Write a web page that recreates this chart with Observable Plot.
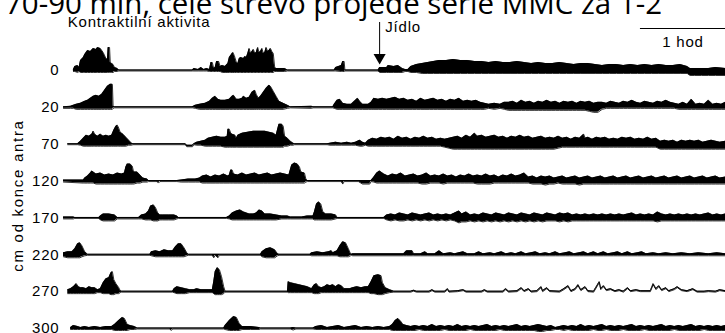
<!DOCTYPE html>
<html>
<head>
<meta charset="utf-8">
<script src="https://cdn.jsdelivr.net/npm/d3@7"></script>
<script src="https://cdn.jsdelivr.net/npm/@observablehq/plot@0.6"></script>
<style>
  html, body { margin: 0; padding: 0; background: #fff; overflow: hidden; }
  #wrap { position: relative; width: 725px; height: 333px; overflow: hidden; }
  #title { position: absolute; left: 0; top: 0; }
  #chart { position: absolute; left: 0; top: 0; }
  #chart text { letter-spacing: 0.8px; }
  #chart g[aria-label="fy-axis label"] text { letter-spacing: 1.7px; }
</style>
</head>
<body>
<div id="wrap">
  <div id="chart"></div>
  <svg id="title" width="725" height="30">
    <text x="5" y="14" textLength="657" lengthAdjust="spacingAndGlyphs" font-family="Open Sans" font-size="29" fill="#000">70-90 min, celé střevo projede série MMC za 1-2</text>
  </svg>
</div>
<script>
// Row labels: distance from the end of the antrum (cm)
const rowLabels = ["0", "20", "70", "120", "170", "220", "270", "300"];

// Each trace: [time (min), upper envelope, lower envelope] relative to the row baseline
const row0 = [[7,1,-1],[8,4,-1],[10,5,-2],[11,3,-1],[12,10,-2],[14,13,-2],[15,16,-2],[17,20,-2],[19,19,-2],[21,22,-2],[23,21,-2],[24,23,-2],[26,22,-2],[28,18,-2],[30,12,-2],[31,11,-2],[31.5,23,-2],[32.5,23,-2],[33,8,-2],[34,7,-2],[35,6,-2],[36,3,-1],[38,2,-1],[39,0.5,-0.5],[91,0.5,-0.5],[92,2,-0.5],[95,1,-0.5],[97,3,-0.5],[99,1,-0.5],[101,2,-0.5],[103,1,-1],[104,8,-1],[105,8,-1],[106,2,-1],[107,3,-1],[108,9,-1],[109.5,9,-1],[110.5,4,-1],[112,5,-2],[114,4,-2],[116,7,-2],[117,13,-2],[118,15,-2],[119.5,18,-2],[120.5,15,-2],[122,8,-2],[123,7,-2],[124,12,-2],[125,13,-2],[127,12,-2],[128,14,-2],[129,13,-2],[130,17,-2],[131,22,-2],[132,17,-2],[133,19,-2],[134,21,-2],[135,17,-2],[136,18,-2],[137,23,-2],[138,18,-2],[139,19,-2],[140,22,-2],[141,17,-2],[142,18,-2],[143,23,-2],[144,19,-2],[145,20,-2],[146,22,-2],[147,19,-2],[148,17,-2],[149,3,-1],[150,2,-1],[156,2,-1],[158,0.5,-0.5],[191,0.5,-0.5],[192,3,-0.5],[196,5,-1],[197,9,-1],[198,9,-1],[198.5,0.5,-0.5],[222,0.5,-0.5],[223,3,-2],[228,3,-2],[229,5,-2],[233,4,-2],[236,5,-2],[239,2,-2],[241,1,-1],[243,1,-1],[245,4,-2],[249,6,-2],[253,7,-3],[257,8,-3],[261,9,-3],[265,10,-3],[270,10,-3],[275,11,-3],[280,10,-3],[285,10,-3],[290,9,-3],[295,9,-3],[300,8,-3],[305,9,-3],[310,8,-3],[315,8,-3],[320,9,-3],[325,8,-3],[330,7,-3],[335,8,-3],[340,7,-3],[345,7,-3],[350,8,-3],[355,7,-3],[360,6,-3],[365,7,-3],[370,7,-3],[375,6,-3],[380,5,-3],[385,6,-3],[390,6,-3],[395,5,-3],[400,6,-3],[405,5,-3],[410,6,-3],[415,5,-3],[420,6,-3],[425,5,-3],[430,5,-3],[435,6,-3],[440,4,-3],[442,2,-5],[445,2,-5],[450,2,-5],[455,2,-5],[460,3,-5],[467,2,-5]];

const row20 = [[0,0.5,-1],[5,1,-1],[7,2,-1],[9,3,-2],[12,4,-2],[15,6,-2],[17,7,-2],[19,9,-2],[21,11,-2],[23,12,-2],[25,11,-2],[27,13,-2],[29,17,-2],[31,21,-2],[33,23,-2],[34.5,23,-2],[35,1,-1],[36,0.5,-0.5],[91,0.5,-0.5],[93,2,-1],[96,3,-2],[100,4,-2],[103,6,-2],[105,9,-2],[107,11,-2],[109,8,-2],[111,7,-2],[114,7,-2],[117,8,-2],[119,11,-2],[120,12,-2],[122,8,-2],[124,8,-2],[126,9,-2],[127,11,-2],[129,9,-2],[131,10,-2],[133,15,-2],[135,17,-2],[136,13,-2],[137.5,9,-2],[139,11,-2],[141,15,-2],[143,19,-2],[145,22,-2],[146,21,-2],[148,16,-2],[150,11,-2],[152,6,-2],[155,4,-2],[158,2,-1],[160,0.5,-0.5],[175,1,-1],[176,0.5,-0.5],[190,0.5,-0.5],[191,3,-1],[193,7,-2],[195,8,-2],[197,4,-2],[200,3,-2],[203,3,-2],[206,7,-2],[207.5,9,-2],[209,6,-2],[211,3,-2],[215,3,-2],[217,5,-2],[219,9,-2],[222,8,-2],[225,9,-2],[228,8,-2],[231,9,-2],[234,10,-2],[237,8,-2],[240,9,-2],[243,7,-2],[246,8,-2],[249,6,-2],[252,9,-2],[255,7,-2],[258,8,-2],[261,9,-2],[264,7,-2],[267,8,-2],[270,6,-2],[273,8,-2],[276,7,-2],[279,9,-2],[282,6,-2],[285,7,-2],[288,6,-2],[291,7,-2],[294,5,-2],[297,4,-2],[300,3,-1],[304,4,-2],[308,3,-1],[311,5,-2],[314,5,-3],[317,6,-3],[320,4,-3],[323,7,-3],[326,5,-3],[329,6,-3],[332,4,-3],[335,6,-3],[338,5,-3],[341,7,-3],[344,5,-3],[347,6,-3],[350,4,-3],[353,6,-3],[356,5,-3],[359,6,-3],[362,4,-3],[365,6,-3],[368,5,-3],[371,6,-4],[374,4,-5],[377,5,-5],[380,5,-2],[383,4,-1],[386,6,-1],[389,5,-1],[392,4,-1],[395,6,-1],[398,5,-1],[401,7,-1],[404,5,-1],[407,4,-1],[410,6,-1],[413,5,-1],[416,4,-1],[419,6,-1],[422,5,-1],[425,7,-1],[428,5,-1],[431,4,-1],[434,3,-2],[437,5,-2],[440,3,-2],[443,8,-2],[446,3,-2],[449,4,-2],[452,3,-2],[455,7,-2],[458,3,-2],[461,4,-2],[464,3,-2],[467,5,-2]];

const row70 = [[3,0.5,-0.5],[10,0.5,-0.5],[12,3,-1],[14,6,-2],[16,9,-2],[18,8,-2],[20,10,-2],[21,13,-2],[22,10,-2],[24,8,-2],[26,10,-2],[28,8,-2],[30,9,-2],[32,8,-2],[34,9,-2],[35.5,14,-2],[37,18,-2],[38,19,-2],[39,16,-2],[40,12,-2],[42,10,-2],[44,7,-2],[46,4,-1],[48,1,-1],[49,0.5,-0.5],[86,0.5,-0.5],[87,-1,-2.5],[91,-1,-2.5],[92,0.5,-0.5],[94,2,-1],[97,3,-1],[100,4,-2],[102,6,-2],[105,7,-2],[108,8,-2],[111,7,-2],[114,7,-3],[115.5,8,-3],[116,15,-3],[117,15,-3],[118,11,-3],[119,10,-3],[121,9,-3],[122,6,-3],[123,9,-3],[126,11,-3],[130,12,-3],[134,13,-3],[138,13,-3],[142,13,-3],[145,12,-3],[148,11,-3],[150,9,-3],[152,20,-3],[154,20,-3],[155,18,-3],[156,8,-2],[158,6,-2],[160,3,-1],[162,1,-1],[163,0.5,-0.5],[186,0.5,-0.5],[188,1,-1],[192,2,-1],[196,1,-1],[200,2,-1],[203,1,-1],[206,2,-1],[209,4,-2],[211,2,-2],[213,1,-1],[215,4,-2],[218,6,-2],[221,5,-2],[224,7,-2],[227,6,-2],[230,7,-2],[233,5,-2],[236,8,-2],[239,6,-2],[242,7,-2],[245,5,-2],[248,7,-2],[251,6,-2],[254,8,-2],[257,6,-2],[260,7,-2],[263,5,-2],[266,6,-2],[269,5,-3],[272,6,-4],[275,7,-5],[278,8,-5],[281,6,-5],[284,9,-5],[287,7,-5],[290,11,-5],[292,8,-5],[295,9,-5],[298,7,-5],[301,8,-5],[304,9,-5],[307,7,-5],[310,8,-5],[313,6,-5],[316,8,-5],[319,7,-5],[322,9,-5],[325,7,-5],[328,8,-5],[331,6,-5],[334,7,-5],[337,8,-5],[340,6,-5],[343,7,-5],[346,6,-5],[349,8,-4],[352,6,-3],[355,7,-3],[358,5,-3],[361,7,-3],[364,6,-3],[367,10,-3],[368,6,-3],[370,7,-3],[373,5,-3],[376,7,-3],[379,6,-3],[382,7,-3],[385,5,-3],[388,6,-3],[391,5,-3],[394,7,-3],[397,6,-3],[400,7,-3],[403,5,-3],[406,6,-3],[409,5,-3],[412,7,-3],[415,5,-3],[418,6,-3],[421,3,-5],[424,4,-5],[427,3,-5],[430,4,-5],[433,2,-5],[436,4,-5],[439,3,-5],[442,4,-5],[445,3,-5],[448,4,-5],[451,2,-5],[454,3,-5],[457,4,-5],[460,3,-5],[463,2,-5],[467,3,-5]];

const row120 = [[0,1,-1],[14,1,-2],[15,3,-2],[17,5,-2],[19,8,-2],[20,10,-2],[21,9,-2],[23,7,-3],[26,8,-3],[29,6,-3],[32,7,-3],[35,6,-3],[38,8,-3],[41,7,-3],[43,8,-3],[44,14,-3],[45,17,-3],[47,17,-3],[48.5,15,-3],[49.5,9,-3],[52,9,-2],[54,6,-2],[56,3,-1],[59,2,-1],[60,0.5,-0.5],[66,0.5,-0.5],[67,0.5,-2],[68,0.5,-0.5],[80,0.5,-0.5],[83,1,-1],[88,2,-1],[93,2,-1],[96,3,-1],[98,5,-2],[101,6,-2],[104,4,-2],[107,6,-2],[110,5,-2],[113,7,-2],[116,5,-2],[117,6,-2],[118,11,-2],[119,11,-2],[120,7,-2],[123,6,-2],[126,8,-2],[129,6,-2],[132,7,-2],[135,8,-2],[138,6,-2],[141,7,-2],[144,8,-2],[147,6,-2],[150,7,-2],[153,8,-2],[156,7,-2],[159,6,-2],[161,16,-2],[163,18,-2],[165,17,-2],[166.5,14,-2],[167.5,9,-2],[170,8,-2],[171,2,-1],[172,0.5,-0.5],[196,0.5,-0.5],[197,0.5,-3],[198,0.5,-0.5],[208,0.5,-0.5],[211,0.5,-3],[216,0.5,-3],[217,0.5,-0.5],[219,4,-1],[221,8,-2],[223,10,-2],[226,7,-2],[229,5,-2],[232,7,-2],[235,6,-2],[238,8,-2],[241,5,-2],[244,6,-2],[247,7,-2],[250,5,-2],[253,6,-3],[256,8,-3],[259,5,-2],[262,6,-2],[265,5,-2],[268,7,-3],[271,5,-2],[274,6,-2],[277,4,-2],[280,6,-2],[283,5,-2],[286,7,-2],[289,5,-2],[292,6,-3],[295,5,-3],[298,7,-3],[301,5,-3],[304,6,-2],[307,4,-2],[310,6,-2],[313,5,-2],[316,7,-2],[319,5,-2],[322,6,-2],[325,8,-2],[328,4,-2],[331,5,-3],[334,3,-3],[337,5,-3],[340,4,-4],[343,5,-3],[346,3,-3],[349,4,-2],[352,5,-3],[355,3,-3],[358,4,-3],[361,5,-3],[364,3,-4],[367,4,-3],[370,5,-3],[373,3,-3],[376,4,-3],[379,5,-3],[382,3,-3],[385,4,-3],[388,5,-3],[391,3,-3],[394,4,-3],[397,5,-3],[400,3,-3],[403,4,-3],[406,5,-3],[409,3,-3],[412,4,-3],[415,5,-3],[418,3,-3],[421,4,-3],[424,5,-3],[427,3,-3],[430,4,-3],[433,5,-3],[436,3,-3],[439,4,-3],[442,5,-3],[445,3,-3],[448,4,-3],[451,5,-3],[454,3,-3],[457,4,-3],[460,5,-3],[463,3,-3],[467,4,-3]];

const row170 = [[0,1,-1],[7,1,-1],[8,0.5,-0.5],[25,0.5,-0.5],[26,2,-2],[28,4,-3],[32,4,-3],[36,3,-3],[38,0.5,-1],[53,0.5,-1],[55,3,-1],[58,4,-2],[60,7,-2],[61.5,12,-2],[63.5,13,-3],[65,10,-3],[66.5,5,-3],[68,3,-2],[70,3,-2],[74,3,-2],[78,3,-2],[80,2,-1],[81,0.5,-0.5],[115,0.5,-0.5],[117,2,-1],[119,5,-2],[122,7,-2],[124.5,8,-2],[127,6,-2],[129,5,-2],[131,4,-2],[134,4,-2],[136,5,-2],[138,8,-2],[140,7,-2],[142,4,-2],[146,4,-2],[150,3,-2],[154,2,-1],[158,2,-1],[160,1,-1],[168,1,-1],[172,2,-1],[176,2,-1],[177,6,-2],[178.5,14,-2],[180,16,-2],[181.5,14,-2],[183,6,-2],[185,4,-2],[189,4,-2],[192,3,-1],[193,0.5,-0.5],[226,0.5,-0.5],[228,3,-2],[231,4,-3],[234,3,-2],[237,5,-3],[240,4,-3],[243,3,-2],[246,5,-3],[249,4,-2],[252,3,-3],[255,4,-2],[258,5,-3],[261,3,-2],[264,4,-3],[267,3,-2],[270,4,-3],[273,3,-2],[276,5,-3],[279,7,-5],[281,4,-4],[284,6,-4],[287,3,-3],[290,4,-4],[293,3,-3],[296,5,-4],[299,4,-3],[302,3,-4],[305,5,-3],[308,4,-4],[311,3,-3],[314,5,-4],[317,4,-3],[320,3,-4],[323,5,-3],[326,4,-4],[329,3,-3],[332,5,-4],[335,4,-3],[338,3,-4],[341,5,-3],[344,4,-3],[347,3,-3],[350,5,-4],[353,4,-3],[356,5,-4],[359,3,-3],[362,4,-3],[365,3,-3],[368,4,-3],[371,3,-3],[374,4,-3],[377,3,-3],[380,4,-3],[383,3,-3],[386,4,-3],[389,3,-3],[392,4,-3],[395,3,-3],[398,4,-3],[401,5,-3],[404,3,-3],[407,4,-3],[410,3,-3],[413,4,-3],[416,3,-3],[419,6,-4],[422,4,-3],[425,3,-3],[428,4,-3],[431,3,-3],[434,4,-3],[437,3,-3],[440,4,-3],[443,3,-3],[446,4,-3],[449,3,-3],[452,4,-3],[455,5,-3],[458,3,-3],[461,4,-3],[464,3,-3],[467,4,-3]];

const row220 = [[0,2,-2],[3,3,-3],[6,3,-3],[8,6,-3],[10,11,-3],[11.5,12,-3],[13,9,-2],[15,3,-1],[17,0.5,-0.5],[61,0.5,-0.5],[62,3,-1],[65,4,-2],[68,3,-2],[71,5,-2],[74,4,-2],[77,4,-2],[79,8,-2],[81,11,-2],[83,11,-2],[85,7,-2],[87,2,-1],[88,0.5,-0.5],[105,0.5,-0.5],[106,0.5,-3],[107,0.5,-0.5],[109,0.5,-3],[110,0.5,-0.5],[139,0.5,-0.5],[140,3,-2],[143,6,-3],[146,7,-3],[149,5,-3],[151,1,-1],[152,0.5,-0.5],[174,0.5,-0.5],[175,2,-1],[179,3,-1],[183,2,-1],[187,3,-1],[189,4,-1],[190,2,-1],[193,4,-1],[195,9,-2],[197,13,-2],[199,12,-2],[201,6,-2],[202.5,1,-1],[203,0.5,-0.5],[204,1,-1],[240,1,-1],[242,4,-1],[246,4,-1],[247,1,-1],[252,1,-1],[255,3,-1],[257,1,-1],[262,1,-1],[265,4,-1],[268,1,-1],[273,2,-1],[276,1,-1],[282,3,-1],[285,1,-1],[290,1,-1],[293,3,-1],[296,1,-1],[301,2,-1],[304,1,-1],[309,3,-1],[312,1,-1],[316,2,-1],[319,1,-1],[323,3,-1],[326,1,-1],[330,2,-1],[333,3,-1],[336,1,-1],[340,2,-1],[343,1,-1],[347,3,-1],[350,1,-1],[354,2,-1],[357,3,-1],[360,1,-1],[364,2,-1],[367,3,-1],[370,1,-1],[374,3,-1],[377,1,-1],[381,3,-1],[384,1,-1],[388,2,-1],[391,3,-1],[394,1,-1],[398,3,-1],[401,1,-1],[405,2,-1],[408,3,-1],[411,1,-1],[416,2,-1],[420,1,-1],[425,2,-1],[430,1,-1],[436,2,-1],[442,1,-1],[448,2,-1],[455,1,-1],[461,2,-1],[467,1,-1]];

const row270 = [[3,2,-2],[5,3,-2],[7,5,-2],[9,8,-2],[10.5,5,-2],[12,4,-2],[14,4,-2],[16,3,-2],[18,5,-2],[20,4,-2],[22,4,-2],[24,2,-1],[26,3,-1],[28,9,-2],[30,13,-2],[32,14,-2],[33.5,19,-3],[34.5,20,-3],[35.5,12,-3],[37,8,-2],[39,4,-2],[40,1,-1],[41,0.5,-0.5],[77,0.5,-0.5],[78,3,-1],[80,5,-2],[83,4,-2],[86,3,-2],[89,2,-1],[92,2,-1],[94,3,-1],[97,2,-1],[102,2,-1],[105,2,-1],[106,10,-2],[107,20,-3],[108.5,24,-3],[110,22,-3],[111.5,15,-3],[113,5,-2],[114,0.5,-0.5],[158,0.5,-0.5],[158.5,10,-1],[160,9,-1],[163,8,-1],[166,7,-1],[169,6,-1],[172,5,-1],[175,3,-1],[177,7,-2],[178.5,8,-2],[180,5,-2],[182,4,-1],[184,5,-1],[186,7,-1],[188,6,-1],[190,7,-1],[192,5,-1],[194,7,-1],[196,6,-1],[198,3,-1],[202,3,-1],[204,4,-1],[207,5,-1],[210,4,-1],[213,5,-1],[215,5,-1],[217,10,-2],[219,16,-2],[222,17,-3],[224,16,-3],[225,9,-3],[227,4,-2],[230,2,-1],[233,0.5,-0.5],[245,0.5,-0.5],[247,1.5,0.5],[249,0.5,-0.5],[258,0.5,-0.5],[260,2,1],[262,0.5,-0.5],[269,0.5,-0.5],[271,3,2],[272,0.5,-0.5],[278,1,0],[282,2,1],[284,0.5,-0.5],[295,0.5,-0.5],[297,2,1],[299,0.5,-0.5],[310,0.5,-0.5],[312,3,2],[314,0.5,-0.5],[320,1,0],[323,4,3],[325,1,0],[328,3,2],[330,0.5,-0.5],[334,1,0],[337,5,4],[338,1,0],[341,4,3],[343,1,0],[350,0.5,-0.5],[353,3,2],[356,6,5],[358,1,0],[361,3,2],[363,7,6],[365,2,1],[368,5,4],[370,1,0],[374,0.5,-0.5],[378,10,9],[379,3,2],[381,6,5],[383,2,1],[386,3,2],[389,1,0],[392,2,1],[395,0.5,-0.5],[398,4,3],[400,1,0],[404,2,1],[407,1,0],[414,1,0],[416,8,7],[418,3,2],[420,6,5],[422,2,1],[425,4,3],[427,1,0],[431,3,2],[433,5,4],[436,2,1],[440,1,0],[444,3,2],[447,0.5,-0.5],[452,0.5,-0.5],[455,1,0],[460,0.5,-0.5],[463,2,1],[467,1,0]];

const row300 = [[5,1,-1],[7,3,-1],[10,2,-1],[12,1,-1],[15,2,-1],[18,1,-1],[22,2,-1],[26,1,-1],[30,2,-1],[34,2,-1],[36,4,-2],[39,8,-2],[41.5,11,-2],[43,10,-2],[45,4,-2],[47,3,-1],[50,2,-1],[52,0.5,-0.5],[75,0.5,-0.5],[76,0.5,-2],[77,0.5,-0.5],[113,0.5,-0.5],[114,3,-1],[117,8,-2],[120,12,-2],[122,11,-2],[124,5,-2],[126,2,-1],[132,2,-1],[138,1,-1],[139,0.5,-0.5],[160,0.5,-0.5],[162,1,-1.5],[164,0.5,-0.5],[176,0.5,-0.5],[178,2,-1],[182,3,-1],[186,1,-1],[190,2,-1],[194,3,-1],[198,1,-1],[202,2,-1],[206,3,-1],[210,1,-1],[214,2,-1],[218,1,-1],[222,2,-1],[226,1,-1],[230,2,-1],[232,4,-2],[234,8,-2],[236,10,-2],[238,7,-2],[239.5,4,-2],[242,3,-2],[245,2,-2],[248,3,-2],[251,2,-1],[254,3,-2],[257,2,-2],[260,4,-2],[263,2,-2],[266,3,-2],[269,2,-1],[272,3,-2],[275,2,-2],[278,4,-2],[281,2,-2],[284,3,-2],[287,2,-1],[290,3,-2],[293,2,-2],[296,3,-2],[299,4,-2],[302,2,-2],[305,3,-2],[308,2,-1],[311,3,-2],[314,2,-2],[317,3,-2],[320,4,-2],[323,2,-2],[326,3,-2],[329,2,-2],[332,3,-2],[335,4,-3],[338,3,-3],[341,2,-2],[344,3,-2],[347,1,-1],[350,2,-1],[353,3,-2],[356,2,-1],[359,3,-2],[362,2,-2],[365,4,-2],[368,2,-2],[371,3,-2],[374,2,-1],[377,3,-2],[380,4,-2],[383,2,-1],[386,3,-2],[389,2,-2],[392,3,-2],[395,2,-1],[398,3,-2],[401,4,-2],[404,2,-2],[407,3,-2],[410,2,-1],[413,3,-2],[416,2,-2],[419,3,-2],[422,4,-2],[425,2,-2],[428,3,-2],[431,2,-1],[434,3,-2],[437,2,-2],[440,3,-2],[443,4,-2],[446,2,-2],[449,3,-2],[452,2,-1],[455,3,-2],[458,2,-2],[461,3,-2],[464,2,-2],[467,3,-2]];

const traces = [row0, row20, row70, row120, row170, row220, row270, row300];

// Annotations (in the top row "0")
const annoRow = "0";
const mealTime = 223;          // "Jídlo" (meal) marker, min
const scaleBar = [407, 467];   // 1 hour scale bar, min
const startLabels = [
  {text: "Kontraktilní aktivita", t: 3, level: 48},
  {text: "Jídlo", t: 227, level: 43}
];
const scaleLabel = [{text: "1 hod", t: 437, level: 28}];

const points = traces.flatMap((pts, i) =>
  pts.map(([t, hi, lo]) => ({row: rowLabels[i], t, hi, lo})));

const chart = Plot.plot({
  width: 725,
  height: 347,
  marginLeft: 63,
  marginRight: 0,
  marginTop: 51.57,
  marginBottom: 0.57,
  style: {fontFamily: "'Liberation Sans', Arial, sans-serif", fontSize: "15px", background: "transparent", color: "#000", overflow: "visible"},
  x: {domain: [0, 467], axis: null},
  y: {domain: [-18.43, 18.43], axis: null},
  fy: {domain: rowLabels, padding: 0, round: false, axis: "left", tickSize: 0, tickPadding: 4,
       label: "cm od konce antra", labelAnchor: "center", labelOffset: 51},
  marks: [
    Plot.areaY(points, {x: "t", y1: "lo", y2: "hi", fy: "row", z: "row", fill: "#000", curve: "linear"}),
    Plot.line(points, {x: "t", y: "hi", fy: "row", z: "row", stroke: "#000", strokeWidth: 0.8}),
    Plot.line(points, {x: "t", y: "lo", fy: "row", z: "row", stroke: "#000", strokeWidth: 0.8}),
    Plot.text(startLabels, {x: "t", y: "level", text: "text", fy: () => annoRow, textAnchor: "start", fill: "#000"}),
    Plot.text(scaleLabel, {x: "t", y: "level", text: "text", fy: () => annoRow, textAnchor: "middle", fill: "#000"}),
    Plot.ruleX([mealTime], {x: d => d, y1: 13, y2: 48, fy: () => annoRow, stroke: "#000", strokeWidth: 1}),
    Plot.dot([mealTime], {x: d => d, y: 13, fy: () => annoRow, symbol: "triangle", r: 4.5, rotate: 180, fill: "#000", stroke: "none"}),
    Plot.ruleY([scaleBar], {x1: d => d[0], x2: d => d[1], y: 42, fy: () => annoRow, stroke: "#000", strokeWidth: 1})
  ]
});
// nudge the rotated axis title slightly upward, as in the reference
const yTitle = chart.querySelector('g[aria-label="fy-axis label"]');
if (yTitle) yTitle.setAttribute("transform", ((yTitle.getAttribute("transform") || "") + " translate(0,-4)").trim());
document.getElementById("chart").appendChild(chart);
</script>
</body>
</html>
